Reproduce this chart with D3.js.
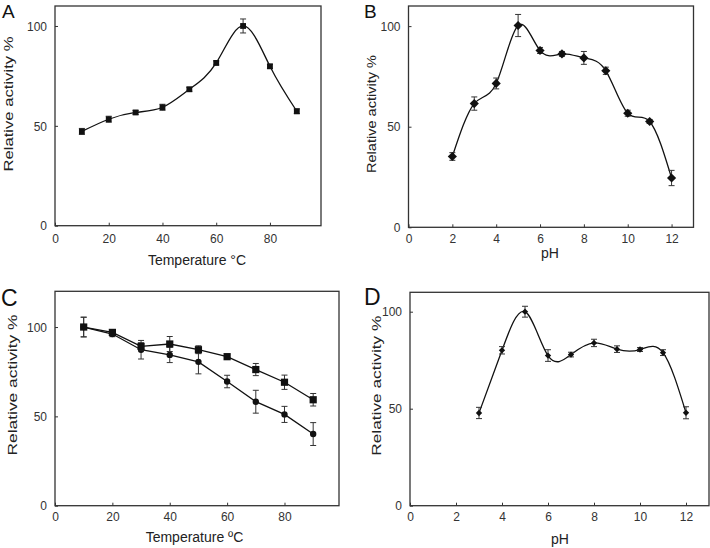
<!DOCTYPE html>
<html>
<head>
<meta charset="utf-8">
<script src="https://cdn.jsdelivr.net/npm/d3@7/dist/d3.min.js"></script>
<style>
  html, body { margin: 0; padding: 0; background: #fff; }
  svg { display: block; font-family: "Liberation Sans", Arial, Helvetica, sans-serif; }
</style>
</head>
<body>
<svg id="chart" width="710" height="548"></svg>
<script>
// ---------- DATA ----------
// Panel A: temperature optimum
const tempA = [10, 20, 30, 40, 50, 60, 70, 80, 90];
const actA  = [47.2, 53.3, 56.7, 59.3, 68.3, 81.5, 100, 79.8, 57.3];
const errA  = [1.5, 1.5, 1.0, 1.5, 1.0, 1.0, 3.5, 1.0, 1.2];

// Panel B: pH optimum
const phB  = [2, 3, 4, 5, 6, 7, 8, 9, 10, 11, 12];
const actB = [35.2, 61.5, 71.5, 100.3, 87.9, 86.2, 84.2, 77.8, 56.7, 52.6, 24.5];
const errB = [1.9, 3.3, 2.7, 5.5, 1.5, 1.2, 3.2, 1.8, 1.5, 1.0, 3.8];

// Panel C: thermal stability (two series)
const tempC     = [10, 20, 30, 40, 50, 60, 70, 80, 90];
const actCsq    = [100, 97.0, 89.2, 90.5, 87.3, 83.4, 76.2, 69.1, 59.3];
const errCsq    = [5.5, 1.5, 2.0, 4.2, 2.2, 1.5, 3.4, 4.0, 3.5];
const actCci    = [100, 96.1, 87.3, 84.4, 80.5, 69.5, 58.2, 51.1, 40.1];
const errCci    = [5.5, 1.5, 5.2, 4.3, 6.7, 3.5, 6.4, 4.5, 6.4];

// Panel D: pH stability
const phD  = [3, 4, 5, 6, 7, 8, 9, 10, 11, 12];
const actD = [47.8, 80.1, 100, 77.4, 77.9, 83.9, 80.7, 80.5, 78.9, 47.9];
const errD = [2.9, 1.9, 2.8, 3.0, 1.2, 1.9, 1.7, 1.0, 1.5, 3.1];

// Tick labels
const tempTicks = [0, 20, 40, 60, 80];
const phTicks   = [0, 2, 4, 6, 8, 10, 12];
const yTicks    = [0, 50, 100];

// ---------- DRAW ----------
const svg = d3.select("#chart");
const AXIS = "#333";

function panel(cfg) {
  const g = svg.append("g");
  const x = d3.scaleLinear().domain(cfg.xDomain).range([cfg.left, cfg.right]);
  const y = d3.scaleLinear().domain(cfg.yDomain).range([cfg.bottom, cfg.top]);

  // frame
  g.append("rect")
    .attr("x", cfg.left).attr("y", cfg.top)
    .attr("width", cfg.right - cfg.left).attr("height", cfg.bottom - cfg.top)
    .attr("fill", "none").attr("stroke", AXIS).attr("stroke-width", 1.3);

  // x axis (inward ticks)
  const xa = g.append("g").attr("transform", `translate(0,${cfg.bottom})`)
    .call(d3.axisBottom(x).tickValues(cfg.xTicks).tickSizeInner(-3).tickSizeOuter(0).tickPadding(0));
  xa.select(".domain").remove();
  xa.selectAll(".tick line").attr("stroke", AXIS).attr("stroke-width", 1);
  xa.selectAll(".tick text").attr("y", cfg.xLabDy).attr("dy", 0)
    .attr("font-size", 12).attr("fill", AXIS).attr("font-family", "Liberation Sans, Arial, sans-serif");

  // y axis (inward ticks)
  const ya = g.append("g").attr("transform", `translate(${cfg.left},0)`)
    .call(d3.axisLeft(y).tickValues(yTicks).tickSizeInner(-3).tickSizeOuter(0).tickPadding(0));
  ya.select(".domain").remove();
  ya.selectAll(".tick line").attr("stroke", AXIS).attr("stroke-width", 1);
  ya.selectAll(".tick text").attr("x", -8).attr("dy", "0.35em")
    .attr("font-size", 12).attr("fill", AXIS).attr("font-family", "Liberation Sans, Arial, sans-serif");

  // titles
  g.append("text").attr("x", cfg.xTitleX).attr("y", cfg.xTitleY)
    .attr("text-anchor", "middle").attr("font-size", 14).attr("fill", "#222")
    .text(cfg.xTitle);
  g.append("text")
    .attr("transform", `translate(${cfg.yTitleX},${cfg.yTitleY}) rotate(-90)`)
    .attr("text-anchor", "middle").attr("font-size", 13).attr("fill", "#222")
    .attr("textLength", cfg.yTitleLen).attr("lengthAdjust", "spacingAndGlyphs")
    .text("Relative activity %");
  g.append("text").attr("x", cfg.letterX).attr("y", cfg.letterY)
    .attr("font-size", cfg.letterSize).attr("fill", "#111")
    .text(cfg.letter);

  // series
  cfg.series.forEach(s => {
    const pts = s.xs.map((xv, i) => [xv, s.ys[i], s.es[i]]);
    const line = d3.line().x(d => x(d[0])).y(d => y(d[1])).curve(s.curve);
    g.append("path").datum(pts).attr("d", line)
      .attr("fill", "none").attr("stroke", "#111").attr("stroke-width", 1.3);

    // error bars
    const eb = g.append("g").attr("stroke", "#333").attr("stroke-width", 1);
    pts.forEach(d => {
      const cx = x(d[0]), y1 = y(d[1] - d[2]), y2 = y(d[1] + d[2]);
      eb.append("line").attr("x1", cx).attr("x2", cx).attr("y1", y1).attr("y2", y2);
      eb.append("line").attr("x1", cx - 3).attr("x2", cx + 3).attr("y1", y1).attr("y2", y1);
      eb.append("line").attr("x1", cx - 3).attr("x2", cx + 3).attr("y1", y2).attr("y2", y2);
    });

    // markers
    const sym = d3.symbol().type(s.symbol).size(s.size);
    g.append("g").selectAll("path").data(pts).join("path")
      .attr("d", sym)
      .attr("transform", d => `translate(${x(d[0])},${y(d[1])})` + (s.symbol === d3.symbolSquare && s.diamond ? " rotate(45)" : ""))
      .attr("fill", "#111");
  });
}

// Panel A
panel({
  left: 55, right: 321, top: 6, bottom: 225.7,
  xDomain: [0, 99], yDomain: [0, 110], xTicks: tempTicks, xLabDy: 17,
  xTitle: "Temperature \u00B0C", xTitleX: 197, xTitleY: 265,
  yTitleX: 12.5, yTitleY: 104, yTitleLen: 135,
  letter: "A", letterX: 2, letterY: 18, letterSize: 19,
  series: [{ xs: tempA, ys: actA, es: errA, curve: d3.curveNatural, symbol: d3.symbolSquare, size: 34 }]
});

// Panel B
panel({
  left: 408.5, right: 693.5, top: 6, bottom: 227.3,
  xDomain: [0, 13], yDomain: [0, 110], xTicks: phTicks, xLabDy: 16,
  xTitle: "pH", xTitleX: 550, xTitleY: 257.5,
  yTitleX: 376, yTitleY: 114, yTitleLen: 118,
  letter: "B", letterX: 364, letterY: 18, letterSize: 19,
  series: [{ xs: phB, ys: actB, es: errB, curve: d3.curveNatural, symbol: d3.symbolSquare, diamond: true, size: 42 }]
});

// Panel C
panel({
  left: 55, right: 339, top: 291.3, bottom: 505.7,
  xDomain: [0, 99], yDomain: [0, 120], xTicks: tempTicks, xLabDy: 15,
  xTitle: "Temperature \u00BAC", xTitleX: 194.5, xTitleY: 542,
  yTitleX: 16.5, yTitleY: 385, yTitleLen: 141,
  letter: "C", letterX: 1, letterY: 306, letterSize: 23,
  series: [
    { xs: tempC, ys: actCci, es: errCci, curve: d3.curveLinear, symbol: d3.symbolCircle, size: 32 },
    { xs: tempC, ys: actCsq, es: errCsq, curve: d3.curveLinear, symbol: d3.symbolSquare, size: 52 }
  ]
});

// Panel D
panel({
  left: 410, right: 709, top: 292.3, bottom: 505.7,
  xDomain: [0, 13], yDomain: [0, 110], xTicks: phTicks, xLabDy: 15,
  xTitle: "pH", xTitleX: 560, xTitleY: 543.5,
  yTitleX: 380.5, yTitleY: 385.7, yTitleLen: 140,
  letter: "D", letterX: 364, letterY: 305, letterSize: 23,
  series: [{ xs: phD, ys: actD, es: errD, curve: d3.curveNatural, symbol: d3.symbolSquare, diamond: true, size: 20 }]
});
</script>
</body>
</html>
